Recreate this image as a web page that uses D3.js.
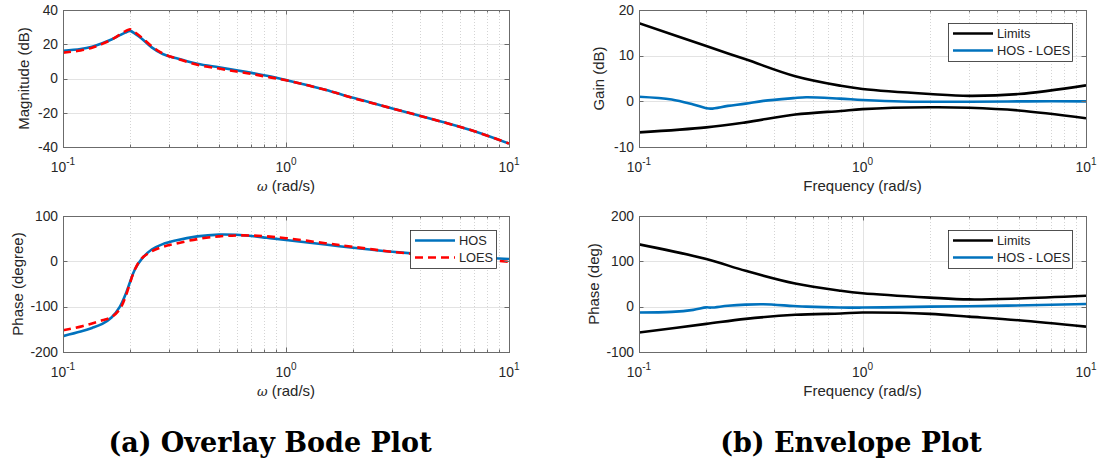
<!DOCTYPE html>
<html>
  <head>
    <meta charset="utf-8">
    <title>Overlay Bode / Envelope</title>
    <style>
      body { margin: 0; background: #fff; }
      svg text { font-family: "Liberation Sans", Arial, sans-serif; fill: #262626; }
    </style>
  </head>
  <body>
    <div id="vis"></div>
    <script src="https://d3js.org/d3.v7.min.js"></script>
    <script>
    // frequencies (rad/s) for the overlay plot
    let freqBode = [0.1, 0.12, 0.135, 0.15, 0.165, 0.18, 0.19, 0.2, 0.21, 0.225, 0.25, 0.28, 0.32, 0.4, 0.5, 0.6, 0.7, 0.82, 1, 1.5, 2, 3, 5, 7, 10];
    let hosMag  = [16.2, 17.2, 18.6, 20.6, 22.8, 25.3, 26.8, 27.8, 26.2, 23.4, 18.2, 14.3, 11.9, 8.6, 6.5, 4.8, 3.3, 1.6, -0.9, -6.5, -11.3, -17.5, -25.3, -30.8, -38];
    let loesMag = [15.1, 16.4, 18.0, 20.2, 22.7, 25.6, 27.5, 28.7, 27.0, 24.0, 18.8, 14.6, 11.8, 8.0, 5.8, 4.1, 2.7, 1.0, -1.0, -6.6, -11.4, -17.5, -25.3, -30.8, -38];
    let hosPhase  = [-165, -155, -147, -138, -124, -100, -75, -45, -18, 5, 26, 38, 46, 55, 59, 58.5, 56, 52, 47, 37, 30, 21, 13, 9, 5];
    let loesPhase = [-152, -144, -137, -130, -123, -105, -80, -47, -18, 6, 22, 32, 39, 49, 55, 57, 57, 55, 51, 40, 32, 21, 11, 5, -1];

    // envelope limits (rad/s)
    let freqLimits = [0.1, 0.2, 0.3, 0.5, 0.8, 1, 2, 3, 5, 10];
    let gainUpper  = [17.1, 12.1, 9.2, 5.5, 3.4, 2.7, 1.6, 1.2, 1.6, 3.5];
    let gainLower  = [-6.8, -5.7, -4.6, -2.9, -2.1, -1.7, -1.3, -1.4, -2.0, -3.7];
    let phaseUpper = [137.5, 105, 79, 51, 35, 29.5, 20, 16, 18, 24];
    let phaseLower = [-57, -38, -27, -18, -15, -13, -16, -22, -30, -44];

    // HOS - LOES mismatch (rad/s)
    let freqDiff  = [0.1, 0.14, 0.175, 0.2, 0.21, 0.25, 0.3, 0.36, 0.49, 0.56, 0.79, 1, 1.5, 2, 3, 5.5, 10];
    let gainDiff  = [1.0, 0.4, -0.7, -1.5, -1.6, -1.0, -0.5, 0.1, 0.7, 0.9, 0.6, 0.3, -0.05, -0.1, -0.1, 0, 0];
    let phaseDiff = [-13, -11.5, -7, -1.5, -2, 2, 4.5, 5.3, 1.5, 0, -2, -2, -1, 0, 1, 3, 6];

    let xTicks = [0.1, 1, 10];
    let xTickExp = ["-1", "0", "1"];
    let magTicks = [-40, -20, 0, 20, 40];
    let phaseTicks = [-200, -100, 0, 100];
    let gainTicks = [-10, 0, 10, 20];
    let envPhaseTicks = [-100, 0, 100, 200];
    let captions = ["(a) Overlay Bode Plot", "(b) Envelope Plot"];

    const blue = "#0072BD", red = "#FF0000", black = "#000000";
    let w = 1098, h = 461;
    let svg = d3.select("#vis").append("svg")
                .attr("width", w)
                .attr("height", h);

    function pairs(xs, ys) {
      return xs.map(function(f, i) { return [f, ys[i]]; });
    }

    function drawPanel(p) {
      let x = d3.scaleLog().domain([0.1, 10]).range([p.left, p.right]);
      let y = d3.scaleLinear().domain([p.ticks[0], p.ticks[p.ticks.length - 1]]).range([p.bottom, p.top]);
      let g = svg.append("g");

      let minor = [];
      [0.1, 1].forEach(function(d) { for (let k = 2; k <= 9; k++) minor.push(k * d); });

      // grid
      g.selectAll(".minor").data(minor).enter().append("line")
        .attr("x1", d => Math.round(x(d)) + 0.5).attr("x2", d => Math.round(x(d)) + 0.5)
        .attr("y1", p.top).attr("y2", p.bottom)
        .style("stroke", "#d4d4d4").style("stroke-dasharray", "1,2");
      g.selectAll(".gx").data(xTicks.slice(1, 2)).enter().append("line")
        .attr("x1", d => Math.round(x(d)) + 0.5).attr("x2", d => Math.round(x(d)) + 0.5)
        .attr("y1", p.top).attr("y2", p.bottom)
        .style("stroke", "#e3e3e3");
      g.selectAll(".gy").data(p.ticks.slice(1, -1)).enter().append("line")
        .attr("x1", p.left).attr("x2", p.right)
        .attr("y1", d => Math.round(y(d)) + 0.5).attr("y2", d => Math.round(y(d)) + 0.5)
        .style("stroke", "#e3e3e3");

      // curves
      let clipId = "clip" + p.id;
      svg.append("clipPath").attr("id", clipId).append("rect")
        .attr("x", p.left).attr("y", p.top - 2)
        .attr("width", p.right - p.left).attr("height", p.bottom - p.top + 4);
      let line = d3.line().x(d => x(d[0])).y(d => y(d[1])).curve(d3.curveCatmullRom.alpha(0.5));
      p.series.forEach(function(s) {
        g.append("path")
          .attr("clip-path", "url(#" + clipId + ")")
          .attr("d", line(pairs(s.f, s.v)))
          .style("fill", "none")
          .style("stroke", s.color)
          .style("stroke-width", 2.6)
          .style("stroke-dasharray", s.dash ? "8,5" : null);
      });

      // box and ticks
      g.append("rect")
        .attr("x", p.left + 0.5).attr("y", p.top + 0.5)
        .attr("width", p.right - p.left).attr("height", p.bottom - p.top)
        .style("fill", "none").style("stroke", "#6b6b6b");
      let tk = g.append("g").style("stroke", "#6b6b6b");
      xTicks.concat(minor).forEach(function(d) {
        let len = xTicks.indexOf(d) >= 0 ? 4.5 : 2.5;
        let xx = Math.round(x(d)) + 0.5;
        tk.append("line").attr("x1", xx).attr("x2", xx).attr("y1", p.bottom).attr("y2", p.bottom - len);
        tk.append("line").attr("x1", xx).attr("x2", xx).attr("y1", p.top).attr("y2", p.top + len);
      });
      p.ticks.forEach(function(d) {
        let yy = Math.round(y(d)) + 0.5;
        tk.append("line").attr("x1", p.left).attr("x2", p.left + 4.5).attr("y1", yy).attr("y2", yy);
        tk.append("line").attr("x1", p.right).attr("x2", p.right - 4.5).attr("y1", yy).attr("y2", yy);
      });

      // tick labels
      g.selectAll(".yl").data(p.ticks).enter().append("text")
        .attr("x", p.left - 5).attr("y", d => y(d)).attr("dy", "0.35em")
        .attr("text-anchor", "end").style("font-size", "13.8px")
        .text(d => d);
      xTicks.forEach(function(d, i) {
        let t = g.append("text")
          .attr("x", x(d)).attr("y", p.bottom + 25)
          .attr("text-anchor", "middle").style("font-size", "13.8px");
        t.append("tspan").text("10");
        t.append("tspan").attr("dy", -7).style("font-size", "10px").text(xTickExp[i]);
      });

      // axis labels
      let xl = g.append("text")
        .attr("x", (p.left + p.right) / 2).attr("y", p.bottom + 44)
        .attr("text-anchor", "middle").style("font-size", "15px");
      if (p.omega) {
        xl.append("tspan").style("font-style", "italic").style("font-family", "DejaVu Serif, serif")
          .style("font-size", "13px").text("ω");
        xl.append("tspan").text(" (rad/s)");
      } else {
        xl.text(p.xlabel);
      }
      g.append("text")
        .attr("transform", "translate(" + p.ylabelX + "," + (p.top + p.bottom) / 2 + ") rotate(-90)")
        .attr("text-anchor", "middle").style("font-size", "15px")
        .text(p.ylabel);

      // legend
      if (p.legend) {
        let L = p.legend;
        let lg = g.append("g");
        lg.append("rect")
          .attr("x", L.x + 0.5).attr("y", L.y + 0.5).attr("width", L.w).attr("height", L.h)
          .style("fill", "#fff").style("stroke", "#262626").style("stroke-width", 0.8);
        L.items.forEach(function(it, i) {
          let yy = L.y + 10.5 + i * 17;
          lg.append("line")
            .attr("x1", L.x + 5).attr("x2", L.x + 45).attr("y1", yy).attr("y2", yy)
            .style("stroke", it.color).style("stroke-width", 2.6)
            .style("stroke-dasharray", it.dash ? "8,5" : null);
          lg.append("text")
            .attr("x", L.x + 49).attr("y", yy).attr("dy", "0.35em")
            .style("font-size", "12.8px").text(it.label);
        });
      }
    }

    drawPanel({ id: 1, left: 63, right: 509, top: 10, bottom: 147, ticks: magTicks,
      ylabel: "Magnitude (dB)", ylabelX: 29, omega: true,
      series: [{ f: freqBode, v: hosMag, color: blue }, { f: freqBode, v: loesMag, color: red, dash: true }] });
    drawPanel({ id: 2, left: 63, right: 509, top: 216, bottom: 352, ticks: phaseTicks,
      ylabel: "Phase (degree)", ylabelX: 23, omega: true,
      series: [{ f: freqBode, v: hosPhase, color: blue }, { f: freqBode, v: loesPhase, color: red, dash: true }],
      legend: { x: 410, y: 230, w: 86, h: 38, items: [{ label: "HOS", color: blue }, { label: "LOES", color: red, dash: true }] } });
    drawPanel({ id: 3, left: 639, right: 1086, top: 10, bottom: 147, ticks: gainTicks,
      ylabel: "Gain (dB)", ylabelX: 604, xlabel: "Frequency (rad/s)",
      series: [{ f: freqLimits, v: gainUpper, color: black }, { f: freqLimits, v: gainLower, color: black }, { f: freqDiff, v: gainDiff, color: blue }],
      legend: { x: 948, y: 23, w: 124, h: 38, items: [{ label: "Limits", color: black }, { label: "HOS - LOES", color: blue }] } });
    drawPanel({ id: 4, left: 639, right: 1086, top: 216, bottom: 352, ticks: envPhaseTicks,
      ylabel: "Phase (deg)", ylabelX: 599, xlabel: "Frequency (rad/s)",
      series: [{ f: freqLimits, v: phaseUpper, color: black }, { f: freqLimits, v: phaseLower, color: black }, { f: freqDiff, v: phaseDiff, color: blue }],
      legend: { x: 948, y: 230, w: 124, h: 38, items: [{ label: "Limits", color: black }, { label: "HOS - LOES", color: blue }] } });

    // captions
    svg.selectAll(".cap").data(captions).enter().append("text")
      .attr("x", (d, i) => i == 0 ? 270 : 851)
      .attr("y", 452)
      .attr("text-anchor", "middle")
      .style("font-family", "DejaVu Serif, serif")
      .style("font-weight", "bold")
      .style("font-size", "27px")
      .style("fill", "#000")
      .text(d => d);
    </script>
  </body>
</html>
